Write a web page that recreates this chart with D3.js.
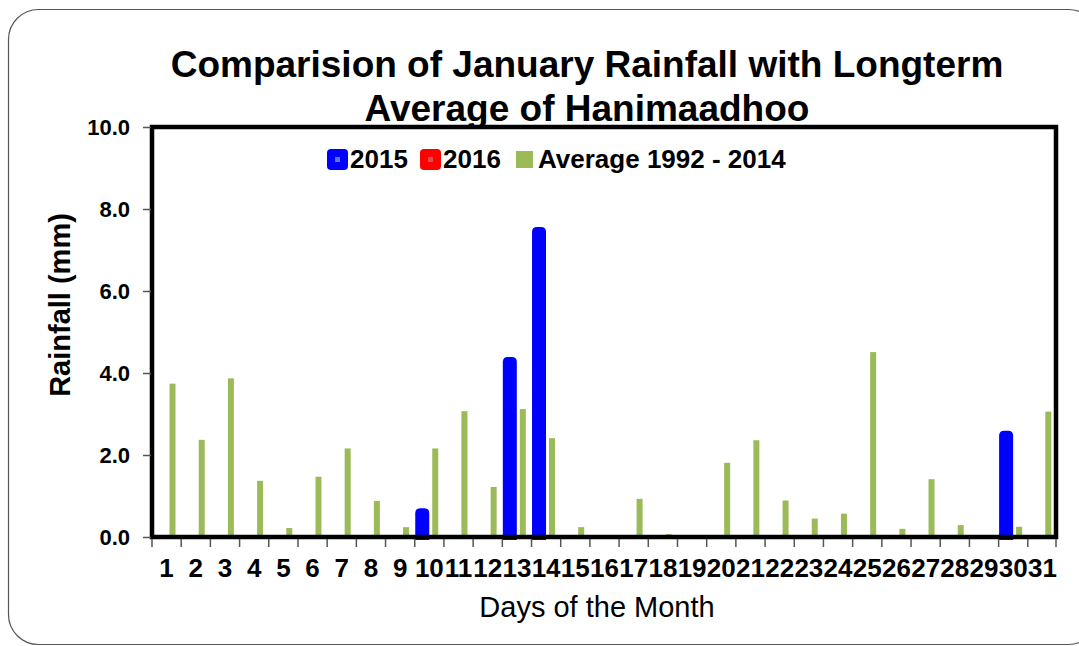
<!DOCTYPE html>
<html>
<head>
<meta charset="utf-8">
<script src="https://cdnjs.cloudflare.com/ajax/libs/d3/7.8.5/d3.min.js"></script>
<style>
  body { margin: 0; background: #fff; }
  text { font-family: "Liberation Sans", Arial, sans-serif; }
</style>
</head>
<body>
<svg id="canvas"></svg>
<script>
var days = d3.range(1, 32).map(String);
var rain2015 = [0, 0, 0, 0, 0, 0, 0, 0, 0, 0.70, 0, 0, 4.39, 7.56, 0, 0, 0, 0, 0, 0, 0, 0, 0, 0, 0, 0, 0, 0, 0, 2.59, 0];
var rain2016 = [0, 0, 0, 0, 0, 0, 0, 0, 0, 0, 0, 0, 0, 0, 0, 0, 0, 0, 0, 0, 0, 0, 0, 0, 0, 0, 0, 0, 0, 0, 0];
var average = [3.74, 2.37, 3.87, 1.37, 0.22, 1.47, 2.16, 0.88, 0.24, 2.16, 3.07, 1.22, 3.12, 2.41, 0.24, 0, 0.93, 0.07, 0, 1.81, 2.36, 0.89, 0.45, 0.57, 4.51, 0.20, 1.41, 0.29, 0, 0.25, 3.06];
var yTicks = [0, 2, 4, 6, 8, 10];
var seriesNames = ["2015", "2016", "Average 1992 - 2014"];
var seriesColors = ["#0000ff", "#ff0000", "#9bbb59"];

var W = 1079, H = 646;
var svg = d3.select("#canvas").attr("width", W).attr("height", H);

// outer rounded frame
svg.append("rect")
  .attr("x", 8.5).attr("y", 9.5)
  .attr("width", 1090).attr("height", 635)
  .attr("rx", 30).attr("ry", 30)
  .style("fill", "none").style("stroke", "#555").style("stroke-width", 1.2);

var plot = {left: 152, right: 1057, top: 127, bottom: 537};

var x = d3.scaleBand().domain(days).range([plot.left, plot.right]).padding(0);
var y = d3.scaleLinear().domain([0, 10]).range([plot.bottom, plot.top]);

// average bars
svg.selectAll(".avg")
    .data(average)
  .enter().append("rect")
    .attr("class", "avg")
    .attr("x", function(d, i) { return x(days[i]) + 17.5; })
    .attr("y", function(d) { return y(d); })
    .attr("width", 6)
    .attr("height", function(d) { return y(0) - y(d); })
    .style("fill", seriesColors[2]);

// rounded-top bars for the years
function roundBar(x0, w, yTop, yBot, r) {
  if (yBot - yTop <= 0) return "";
  r = Math.min(r, (yBot - yTop));
  return "M" + x0 + "," + yBot +
    "L" + x0 + "," + (yTop + r) +
    "Q" + x0 + "," + yTop + " " + (x0 + r) + "," + yTop +
    "L" + (x0 + w - r) + "," + yTop +
    "Q" + (x0 + w) + "," + yTop + " " + (x0 + w) + "," + (yTop + r) +
    "L" + (x0 + w) + "," + yBot + "Z";
}

svg.selectAll(".y2016")
    .data(rain2016)
  .enter().append("path")
    .attr("class", "y2016")
    .attr("d", function(d, i) { return d > 0 ? roundBar(x(days[i]) + 14.5, 14, y(d), y(0) + 3, 5) : ""; })
    .style("fill", seriesColors[1]);

svg.selectAll(".y2015")
    .data(rain2015)
  .enter().append("path")
    .attr("class", "y2015")
    .attr("d", function(d, i) { return d > 0 ? roundBar(x(days[i]) + 0.5, 14, y(d), y(0) + 3, 5) : ""; })
    .style("fill", seriesColors[0]);

// plot border
svg.append("rect")
  .attr("x", plot.left).attr("y", plot.top)
  .attr("width", plot.right - plot.left - 1).attr("height", plot.bottom - plot.top)
  .style("fill", "none").style("stroke", "#000").style("stroke-width", 4.5);

// y axis
var yAxis = d3.axisLeft(y).tickValues(yTicks).tickSize(8).tickPadding(13)
  .tickFormat(function(d) { return d.toFixed(1); });
var gy = svg.append("g")
  .attr("transform", "translate(" + (plot.left - 1) + ",0)")
  .call(yAxis);
gy.select(".domain").remove();
gy.selectAll("line").style("stroke", "#555").style("stroke-width", 1.5);
gy.selectAll("text").style("font-size", "22px").style("font-weight", "bold").attr("fill", "#000");

// x axis labels
var xAxis = d3.axisBottom(x).tickSize(0).tickPadding(0);
var gx = svg.append("g")
  .attr("transform", "translate(0," + plot.bottom + ")")
  .call(xAxis);
gx.select(".domain").remove();
gx.selectAll("text")
  .attr("dy", null).attr("y", 40)
  .style("font-size", "26px").style("font-weight", "bold").attr("fill", "#000");

// x ticks at band edges
svg.selectAll(".xtick")
    .data(days.concat(["end"]))
  .enter().append("line")
    .attr("class", "xtick")
    .attr("x1", function(d) { return d == "end" ? plot.right - 1 : x(d); })
    .attr("x2", function(d) { return d == "end" ? plot.right - 1 : x(d); })
    .attr("y1", plot.bottom + 2).attr("y2", plot.bottom + 10)
    .style("stroke", "#555").style("stroke-width", 1.5);

// titles
svg.append("text").text("Comparision of January Rainfall with Longterm")
  .attr("x", 587).attr("y", 77)
  .style("text-anchor", "middle").style("font-size", "37px").style("font-weight", "bold");
svg.append("text").text("Average of Hanimaadhoo")
  .attr("x", 587).attr("y", 121)
  .style("text-anchor", "middle").style("font-size", "37px").style("font-weight", "bold");

svg.append("text").text("Rainfall (mm)")
  .attr("transform", "translate(70,305) rotate(-90)")
  .style("text-anchor", "middle").style("font-size", "29px").style("font-weight", "bold");

svg.append("text").text("Days of the Month")
  .attr("x", 597).attr("y", 617)
  .style("text-anchor", "middle").style("font-size", "29px");

// legend
var legendX = [327, 420, 516];
var legend = svg.selectAll(".legend")
    .data(seriesNames)
  .enter().append("g")
    .attr("class", "legend")
    .attr("transform", function(d, i) { return "translate(" + legendX[i] + ",0)"; });

legend.append("rect")
  .attr("x", 0)
  .attr("y", function(d, i) { return i < 2 ? 149 : 151; })
  .attr("width", function(d, i) { return i < 2 ? 21 : 17; })
  .attr("height", function(d, i) { return i < 2 ? 21 : 17; })
  .attr("rx", function(d, i) { return i < 2 ? 4 : 0; })
  .style("fill", function(d, i) { return seriesColors[i]; });

legend.filter(function(d, i) { return i < 2; }).append("rect")
  .attr("x", 8).attr("y", 157).attr("width", 5).attr("height", 5)
  .style("fill", function(d, i) { return i == 0 ? "#5a78d8" : "#d85050"; });

legend.append("text").text(function(d) { return d; })
  .attr("x", function(d, i) { return i < 2 ? 23 : 22; })
  .attr("y", 168)
  .style("font-size", "26px").style("font-weight", "bold");
</script>
</body>
</html>
